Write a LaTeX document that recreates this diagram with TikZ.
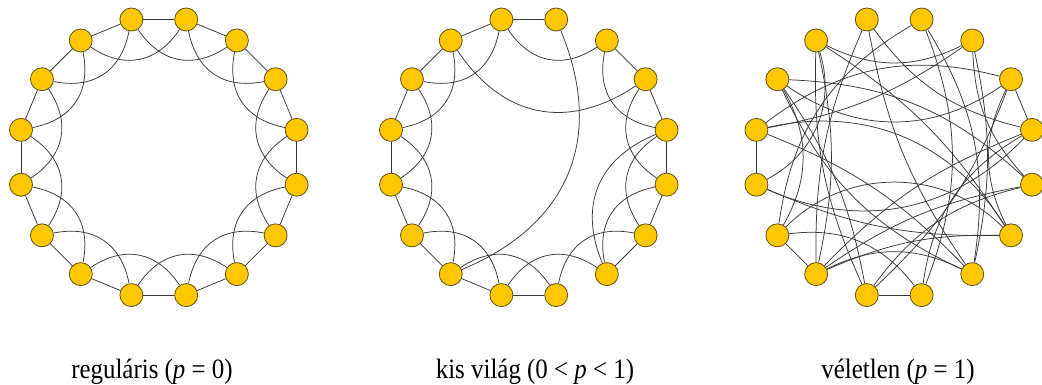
\documentclass[tikz,border=0pt]{standalone}
\usepackage{fontspec}
\setmainfont{Liberation Serif}
\usetikzlibrary{positioning}
\definecolor{vertexfill}{RGB}{254,199,0}
\definecolor{vertexline}{RGB}{95,80,25}
\definecolor{edgecol}{RGB}{55,55,55}

\begin{document}
\begin{tikzpicture}[
    x=1pt, y=1pt,
    vertex/.style={circle, draw=vertexline, fill=vertexfill, line width=0.8pt, minimum size=23pt, inner sep=0pt},
    edge/.style={draw=edgecol, line width=0.75pt},
    arc/.style={edge, looseness=1.15},
    caption/.style={anchor=base, font=\fontsize{28}{30}\selectfont}
]
    \useasboundingbox (0,0) rectangle (1042,385);

    \foreach \g/\cx in {a/158.8, b/528.8, c/894.2} {
        \foreach \k in {0,...,15} {
            \pgfmathsetmacro\px{\cx+140.5*cos(11.25+22.5*\k)}
            \pgfmathsetmacro\py{227.7+140.5*sin(11.25+22.5*\k)}
            \node[vertex] (\g\k) at (\px,\py) {};
        }
    }

    % regular ring
    \foreach \i in {0,...,15} {
        \pgfmathtruncatemacro\j{mod(\i+1,16)}
        \pgfmathtruncatemacro\m{mod(\i+2,16)}
        \draw[edge] (a\i) -- (a\j);
        \draw[arc] (a\i) to[bend left=45] (a\m);
    }

    % small world
    \foreach \i/\j in {3/4,4/5,5/6,6/7,7/8,8/9,9/10,10/11,11/12,13/14,14/15,15/0,0/1,1/2}
        \draw[edge] (b\i) -- (b\j);
    \foreach \i/\j in {2/4,4/6,5/7,6/8,7/9,8/10,9/11,10/12,11/13,12/14,13/15,14/0,15/1,0/2}
        \draw[arc] (b\i) to[bend left=45] (b\j);
    \draw[arc] (b3) to[bend left=45] (b10);
    \draw[arc] (b5) to[bend right=45] (b1);
    \draw[arc] (b0) to[bend right=45] (b13);

    % random
    \foreach \i/\j/\b in {0/1/0, 7/8/0, 9/10/0, 11/12/0,
        5/2/-26, 7/1/26, 6/1/-35, 1/14/-26, 3/9/-26,
        7/14/35, 8/0/-35, 8/14/-12, 9/14/45,
        10/4/12, 10/0/12, 10/15/12, 10/14/12,
        11/5/13, 11/1/-13, 12/3/-21, 13/2/-12, 13/4/12, 13/3/-20, 13/10/-26,
        6/11/12, 6/13/-20, 5/10/12, 5/14/12, 4/0/-20, 8/5/-40, 9/6/-30,
        7/13/12, 7/2/-12, 12/9/-30, 12/0/26, 15/11/-20, 15/6/-20, 2/15/-20}
        \draw[edge] (c\i) to[bend left=\b] (c\j);

    \node[caption] (capa) at (152,6) {\scalebox{0.89}[1]{reguláris (\textit{p} = 0)}};
    \node[caption] (capb) at (535,6) {\scalebox{0.89}[1]{kis világ (0 < \textit{p} < 1)}};
    \node[caption] (capc) at (898,6) {\scalebox{0.89}[1]{véletlen (\textit{p} = 1)}};
\end{tikzpicture}
\end{document}
